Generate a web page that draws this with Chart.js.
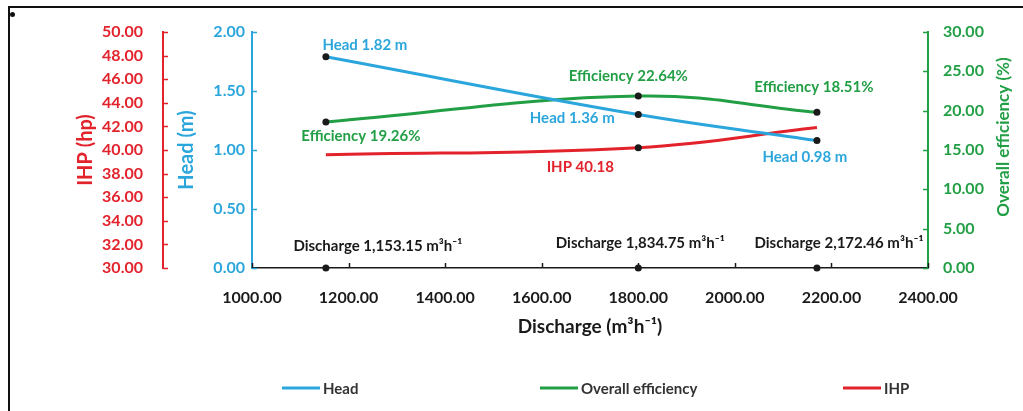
<!DOCTYPE html>
<html>
<head>
<meta charset="utf-8">
<script src="https://cdn.jsdelivr.net/npm/chart.js@4.4.1/dist/chart.umd.min.js"></script>
<style>
    html, body { margin: 0; padding: 0; background: #fff; }
    #wrap { position: relative; width: 1023px; height: 411px; overflow: hidden; }
    #frame { position: absolute; left: 8px; top: 6px; right: -4px; bottom: -4px;
             border-top: 2px solid #111; border-left: 2px solid #111; }
    #mark { position: absolute; left: 10px; top: 12px; width: 5px; height: 5px; border-radius: 50%; background: #111; }
    #pumpChart { position: absolute; left: 0; top: 0; }
</style>
</head>
<body>
<div id="wrap">
    <canvas id="pumpChart" width="1023" height="411"></canvas>
    <div id="frame"></div>
    <div id="mark"></div>
</div>
<script>
// values
var discharge = [1153, 1800, 2170];
var headValues = [1.79, 1.30, 1.08];
var efficiencyValues = [18.55, 21.85, 19.8];
var ihpValues = [39.6, 40.2, 41.9];
var baseValues = [0, 0, 0];

var headLabels = ["Head 1.82 m", "Head 1.36 m", "Head 0.98 m"];
var efficiencyLabels = ["Efficiency 19.26%", "Efficiency 22.64%", "Efficiency 18.51%"];
var ihpLabels = ["", "IHP 40.18", ""];
var dischargeLabels = ["Discharge 1,153.15 m³h⁻¹", "Discharge 1,834.75 m³h⁻¹", "Discharge 2,172.46 m³h⁻¹"];
var legendNames = ["Head", "Overall efficiency", "IHP"];

var BLUE = "#2ba6dd", GREEN = "#229f45", RED = "#e2232c", DARK = "#1a1a1a";

Chart.defaults.font.family = "Lato";
Chart.defaults.font.weight = "bold";

function pairs(ys) {
    return discharge.map(function (x, i) { return {x: x, y: ys[i]}; });
}

// label nudges (px) from each point
var nudges = {
    head: [[39, -12], [-66, 4], [-12, 17]],
    eff: [[35, 14], [-10, -20], [-3, -25]],
    ihp: [[0, 0], [-58, 20], [0, 0]],
    base: [[52, -22], [2, -25], [22, -25]]
};

var pointLabelsPlugin = {
    id: "pointLabels",
    afterDatasetsDraw: function (chart) {
        var ctx = chart.ctx;
        ctx.save();
        ctx.font = "bold 15px Lato";
        ctx.textAlign = "center";
        ctx.textBaseline = "middle";
        chart.data.datasets.forEach(function (ds, di) {
            var meta = chart.getDatasetMeta(di);
            ds.pointText.forEach(function (txt, i) {
                if (!txt) return;
                var el = meta.data[i];
                var n = nudges[ds.key][i];
                ctx.fillStyle = ds.textColor;
                ctx.fillText(txt, el.x + n[0], el.y + n[1]);
            });
        });
        ctx.restore();
    }
};

var tickMarksPlugin = {
    id: "tickMarks",
    afterDraw: function (chart) {
        var ctx = chart.ctx;
        ctx.save();
        ctx.lineWidth = 1.5;
        ["yIhp", "yHead", "yEff"].forEach(function (id) {
            var s = chart.scales[id];
            var left = s.position === "left";
            var xLine = left ? s.right : s.left;
            var dir = left ? 1 : -1;
            ctx.strokeStyle = s.options.border.color;
            s.ticks.forEach(function (t) {
                var y = Math.round(s.getPixelForValue(t.value)) + 0.5;
                ctx.beginPath();
                ctx.moveTo(xLine, y);
                ctx.lineTo(xLine + dir * 5, y);
                ctx.stroke();
            });
        });
        var sx = chart.scales.x;
        ctx.strokeStyle = DARK;
        sx.ticks.forEach(function (t) {
            var x = Math.round(sx.getPixelForValue(t.value)) + 0.5;
            ctx.beginPath();
            ctx.moveTo(x, sx.top);
            ctx.lineTo(x, sx.top - 5);
            ctx.stroke();
        });

        // right axis title, reading bottom to top
        ctx.fillStyle = GREEN;
        ctx.font = "bold 17px Lato";
        ctx.textAlign = "center";
        ctx.textBaseline = "middle";
        ctx.translate(1004, 137);
        ctx.rotate(-Math.PI / 2);
        ctx.fillText("Overall efficiency (%)", 0, 0);
        ctx.restore();

        // legend
        var spots = [282, 540, 843];
        var colors = [BLUE, GREEN, RED];
        ctx.save();
        ctx.font = "bold 15px Lato";
        ctx.textBaseline = "middle";
        ctx.lineWidth = 3;
        legendNames.forEach(function (name, i) {
            ctx.strokeStyle = colors[i];
            ctx.beginPath();
            ctx.moveTo(spots[i], 388);
            ctx.lineTo(spots[i] + 38, 388);
            ctx.stroke();
            ctx.fillStyle = "#333";
            ctx.fillText(name, spots[i] + 41, 389);
        });
        ctx.restore();
    }
};

new Chart(document.querySelector("#pumpChart"), {
    type: "line",
    data: {
        datasets: [{
            key: "head",
            label: "Head",
            data: pairs(headValues),
            yAxisID: "yHead",
            borderColor: BLUE,
            textColor: BLUE,
            pointText: headLabels,
            pointRadius: 3.5
        }, {
            key: "eff",
            label: "Overall efficiency",
            data: pairs(efficiencyValues),
            yAxisID: "yEff",
            borderColor: GREEN,
            textColor: GREEN,
            pointText: efficiencyLabels,
            pointRadius: 3.5
        }, {
            key: "ihp",
            label: "IHP",
            data: pairs(ihpValues),
            yAxisID: "yIhp",
            borderColor: RED,
            textColor: RED,
            pointText: ihpLabels,
            pointRadius: [0, 3.5, 0]
        }, {
            key: "base",
            label: "Discharge",
            data: pairs(baseValues),
            yAxisID: "yEff",
            showLine: false,
            borderColor: DARK,
            textColor: DARK,
            pointText: dischargeLabels,
            pointRadius: 3.5
        }]
    },
    options: {
        responsive: false,
        animation: false,
        clip: false,
        layout: { padding: { left: 70, right: 0, top: 32, bottom: 63 } },
        elements: {
            line: { borderWidth: 3, tension: 0.4, fill: false },
            point: { backgroundColor: DARK, borderWidth: 0 }
        },
        plugins: {
            legend: { display: false },
            tooltip: { enabled: false }
        },
        scales: {
            x: {
                type: "linear",
                min: 1000,
                max: 2400,
                grid: { display: false, drawTicks: false },
                border: { display: true, color: DARK, width: 1.5 },
                ticks: {
                    stepSize: 200,
                    padding: 20,
                    color: DARK,
                    font: { size: 16, weight: "bold" },
                    callback: function (v) { return v.toFixed(2); }
                },
                title: {
                    display: true,
                    text: "Discharge (m³h⁻¹)",
                    color: DARK,
                    font: { size: 19, weight: "bold" },
                    padding: { top: 0, bottom: 10 }
                },
                afterFit: function (s) { s.height = 80; }
            },
            yHead: {
                position: "left",
                weight: 0,
                min: 0,
                max: 2,
                grid: { display: false, drawTicks: false },
                border: { display: true, color: BLUE, width: 2 },
                ticks: {
                    stepSize: 0.5,
                    padding: 7,
                    autoSkip: false,
                    color: BLUE,
                    font: { size: 16, weight: "bold" },
                    callback: function (v) { return v.toFixed(2); }
                },
                title: {
                    display: true,
                    text: "Head (m)",
                    color: BLUE,
                    font: { size: 20, weight: "bold" },
                    padding: { top: 12, bottom: 0 }
                },
                afterFit: function (s) { s.width = 89; }
            },
            yIhp: {
                position: "left",
                weight: 1,
                min: 30,
                max: 50,
                grid: { display: false, drawTicks: false },
                border: { display: true, color: RED, width: 2 },
                ticks: {
                    stepSize: 2,
                    padding: 20,
                    autoSkip: false,
                    color: RED,
                    font: { size: 16, weight: "bold" },
                    callback: function (v) { return v.toFixed(2); }
                },
                title: {
                    display: true,
                    text: "IHP (hp)",
                    color: RED,
                    font: { size: 20, weight: "bold" },
                    padding: { top: 4, bottom: 0 }
                },
                afterFit: function (s) { s.width = 93; }
            },
            yEff: {
                position: "right",
                min: 0,
                max: 30,
                grid: { display: false, drawTicks: false },
                border: { display: true, color: GREEN, width: 2 },
                ticks: {
                    stepSize: 5,
                    padding: 15,
                    autoSkip: false,
                    color: GREEN,
                    font: { size: 16, weight: "bold" },
                    callback: function (v) { return v.toFixed(2); }
                },
                afterFit: function (s) { s.width = 95; }
            }
        }
    },
    plugins: [pointLabelsPlugin, tickMarksPlugin]
});
</script>
</body>
</html>
